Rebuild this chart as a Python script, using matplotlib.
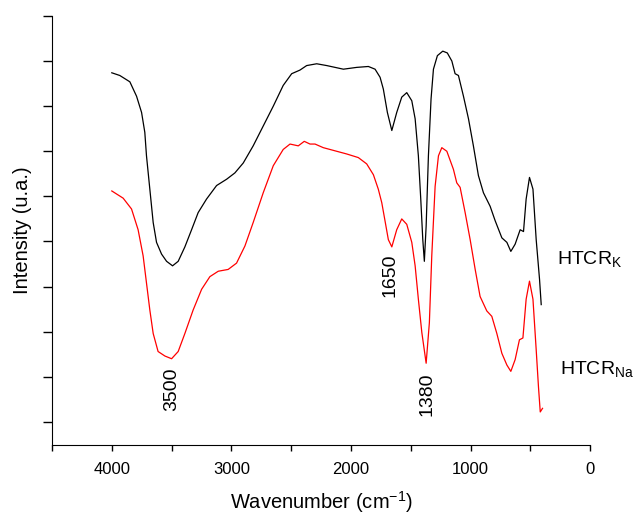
import numpy as np
import matplotlib.pyplot as plt
from matplotlib.ticker import MultipleLocator

plt.rcParams['font.family'] = ['Liberation Sans', 'DejaVu Sans']
plt.rcParams['mathtext.fontset'] = 'custom'
plt.rcParams['mathtext.rm'] = 'Liberation Sans'

# spettri FTIR (numero d'onda in cm-1, intensita' in u.a.)
wn_k = [4000, 3933, 3849, 3793, 3751, 3724, 3710, 3682, 3654, 3626, 3584, 3542, 3492,
        3445, 3389, 3333, 3278, 3208, 3124, 3040, 2971, 2901, 2818, 2734, 2650, 2567,
        2496, 2427, 2371, 2287, 2203, 2064, 1952, 1855, 1799, 1757, 1730, 1696, 1659,
        1618, 1576, 1534, 1492, 1464, 1437, 1417, 1400, 1387, 1372, 1353, 1331, 1311,
        1278, 1233, 1195, 1157, 1130, 1102, 1060, 1018, 977, 935, 893, 837, 795, 739,
        697, 664, 628, 586, 558, 536, 508, 479, 452, 424, 410]
int_k = [4.37, 4.34, 4.27, 4.11, 3.93, 3.71, 3.45, 3.08, 2.71, 2.49, 2.36, 2.28, 2.23,
         2.28, 2.44, 2.63, 2.82, 2.97, 3.12, 3.19, 3.26, 3.37, 3.56, 3.78, 4.00, 4.23,
         4.36, 4.40, 4.45, 4.47, 4.45, 4.41, 4.43, 4.44, 4.41, 4.32, 4.19, 3.93, 3.73,
         3.93, 4.10, 4.15, 4.06, 3.86, 3.45, 2.97, 2.52, 2.28, 2.67, 3.45, 4.08, 4.41,
         4.56, 4.61, 4.59, 4.50, 4.36, 4.34, 4.11, 3.86, 3.56, 3.23, 3.04, 2.89, 2.73,
         2.54, 2.49, 2.39, 2.47, 2.63, 2.61, 2.97, 3.21, 3.08, 2.52, 2.08, 1.80]

wn_na = [4000, 3905, 3835, 3780, 3738, 3710, 3682, 3654, 3613, 3556, 3500, 3445, 3389,
         3320, 3249, 3180, 3110, 3027, 2957, 2887, 2818, 2734, 2650, 2567, 2510, 2441,
         2391, 2343, 2301, 2232, 2148, 2036, 1939, 1869, 1813, 1772, 1743, 1716, 1688,
         1659, 1618, 1576, 1534, 1492, 1464, 1437, 1408, 1372, 1345, 1325, 1297, 1269,
         1241, 1199, 1144, 1116, 1088, 1046, 1004, 962, 921, 865, 823, 781, 739, 697,
         664, 628, 592, 563, 536, 508, 479, 452, 433, 418, 399]
int_na = [3.06, 2.98, 2.86, 2.63, 2.34, 2.04, 1.74, 1.48, 1.28, 1.23, 1.20, 1.28, 1.48,
          1.74, 1.97, 2.11, 2.17, 2.19, 2.26, 2.45, 2.71, 3.04, 3.34, 3.52, 3.58, 3.56,
          3.61, 3.58, 3.58, 3.54, 3.51, 3.47, 3.43, 3.36, 3.24, 3.08, 2.93, 2.73, 2.52,
          2.44, 2.63, 2.75, 2.69, 2.49, 2.23, 1.86, 1.49, 1.15, 1.60, 2.34, 3.11, 3.45,
          3.54, 3.50, 3.30, 3.15, 3.10, 2.82, 2.52, 2.19, 1.89, 1.73, 1.67, 1.48, 1.26,
          1.13, 1.06, 1.19, 1.41, 1.43, 1.86, 2.06, 1.86, 1.30, 0.89, 0.61, 0.65]

bande = [(3500, '3500', 0.86), (1670, '1650', 2.13), (1365, '1380', 0.81)]

fig = plt.figure(figsize=(6.34, 5.15), dpi=100)
ax = fig.add_axes([0.082, 0.136, 0.849, 0.833])

ax.plot(wn_k, int_k, color='black', lw=0.9)
ax.plot(wn_na, int_na, color='red', lw=0.9)

for x, testo, y in bande:
    ax.text(x, y, testo, rotation=90, ha='center', va='center', fontsize=14)

ax.text(276, 2.30, 'HTCR$_\\mathregular{K}$', fontsize=14, ha='left', va='center')
ax.text(251, 1.08, 'HTCR$_\\mathregular{Na}$', fontsize=14, ha='left', va='center')

ax.set_xlim(4500, 0)
ax.set_ylim(0.244, 5.0)
ax.xaxis.set_major_locator(MultipleLocator(1000))
ax.xaxis.set_minor_locator(MultipleLocator(500))
ax.yaxis.set_major_locator(MultipleLocator(1))
ax.yaxis.set_minor_locator(MultipleLocator(0.5))
ax.set_yticklabels([])
ax.tick_params(axis='x', which='both', direction='out', length=4, width=1, labelsize=12, pad=8)
ax.tick_params(axis='y', which='both', direction='out', length=6.5, width=1, pad=0)

for s in ['top', 'right']:
    ax.spines[s].set_visible(False)

ax.set_xlabel('Wavenumber (cm$^{-1}$)', fontsize=14.5, labelpad=9)
ax.set_ylabel('Intensity (u.a.)', fontsize=14.5, labelpad=8)

fig.savefig('out.png', dpi=100)
